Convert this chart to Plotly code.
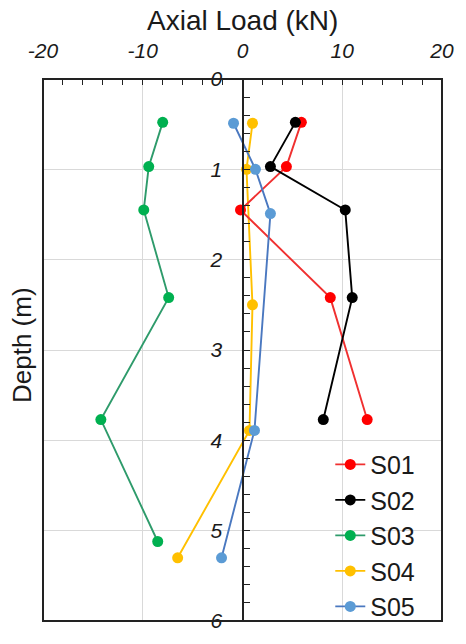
import plotly.graph_objects as go

# Measured axial loads (kN) against depth (m) for each strain-gauged pile
s01_load = [5.9, 4.4, -0.2, 8.8, 12.5]
s01_depth = [0.48, 0.97, 1.45, 2.42, 3.77]

s02_load = [5.3, 2.8, 10.3, 11.0, 8.1]
s02_depth = [0.48, 0.97, 1.45, 2.42, 3.77]

s03_load = [-8.0, -9.4, -9.9, -7.4, -14.2, -8.5]
s03_depth = [0.48, 0.97, 1.45, 2.42, 3.77, 5.12]

s04_load = [1.0, 0.4, 1.0, 0.7, -6.5]
s04_depth = [0.49, 1.0, 2.5, 3.89, 5.3]

s05_load = [-0.9, 1.3, 2.8, 1.2, -2.1]
s05_depth = [0.49, 1.0, 1.49, 3.89, 5.3]

series_names = ["S01", "S02", "S03", "S04", "S05"]
loads = [s01_load, s02_load, s03_load, s04_load, s05_load]
depths = [s01_depth, s02_depth, s03_depth, s04_depth, s05_depth]
line_colors = ["#F03030", "#000000", "#2E9B6B", "#FFC000", "#4A78C0"]
marker_colors = ["#FF0000", "#000000", "#00B050", "#FFC000", "#5B9BD5"]
# S04 sits underneath the others so its markers are covered where they overlap
draw_order = [3, 0, 1, 2, 4]

x_ticks = [-20, -10, 0, 10, 20]
x_tick_text = ["-20", "-10", "0", "10", "20"]
y_ticks = [0, 1, 2, 3, 4, 5, 6]

FONT = "Arial, Liberation Sans, sans-serif"

fig = go.Figure()
for i in draw_order:
    fig.add_trace(go.Scatter(
        x=loads[i], y=depths[i], name=series_names[i], mode="lines+markers",
        legendrank=i + 1,
        line=dict(color=line_colors[i], width=1.9),
        marker=dict(color=marker_colors[i], size=11),
    ))

fig.update_layout(
    width=466, height=644,
    margin=dict(l=43, r=23, t=79, b=13),
    plot_bgcolor="white", paper_bgcolor="white",
    font=dict(family=FONT, color="#1a1a1a"),
    showlegend=True,
    legend=dict(
        x=0.72, y=-0.016, xanchor="left", yanchor="bottom",
        font=dict(size=25, family=FONT, color="#1a1a1a"),
        bgcolor="rgba(255,255,255,0)", tracegroupgap=0,
        itemwidth=30,
    ),
    xaxis=dict(
        range=[-20, 20], side="top",
        tickvals=x_ticks, ticktext=x_tick_text,
        tickfont=dict(size=21, style="italic", family=FONT, color="#1a1a1a"),
        ticks="inside", ticklen=6, tickwidth=1.3, tickcolor="#222",
        ticklabelstandoff=16,
        minor=dict(dtick=2, tick0=0, ticks="inside", ticklen=6, tickwidth=1.3, tickcolor="#222", showgrid=False),
        showgrid=True, gridcolor="#D9D9D9", gridwidth=1.2,
        zeroline=False, showline=False,
    ),
    yaxis=dict(
        range=[6, 0], anchor="free", position=0.5, side="left",
        tickvals=y_ticks,
        tickfont=dict(size=21, style="italic", family=FONT, color="#1a1a1a"),
        ticks="inside", ticklen=6, tickwidth=1.3, tickcolor="#222",
        ticklabelstandoff=15,
        minor=dict(dtick=0.2, tick0=0, ticks="inside", ticklen=6, tickwidth=1.3, tickcolor="#222", showgrid=False),
        showgrid=True, gridcolor="#D9D9D9", gridwidth=1.2,
        zeroline=False, showline=True, linecolor="#222", linewidth=2,
    ),
    shapes=[dict(
        type="rect", xref="paper", yref="paper", x0=0, x1=1, y0=0, y1=1,
        line=dict(color="#222", width=2), layer="above",
    )],
    annotations=[
        dict(text="Axial Load (kN)", xref="paper", yref="paper", x=0.5, y=1.0,
             yshift=59, showarrow=False, xanchor="center", yanchor="middle",
             font=dict(size=28, family=FONT, color="#1a1a1a")),
        dict(text="Depth (m)", xref="paper", yref="paper", x=0.0, y=0.5,
             xshift=-21, yshift=5, showarrow=False, textangle=-90,
             xanchor="center", yanchor="middle",
             font=dict(size=26, family=FONT, color="#1a1a1a")),
    ],
)

fig.write_html("out.html")
